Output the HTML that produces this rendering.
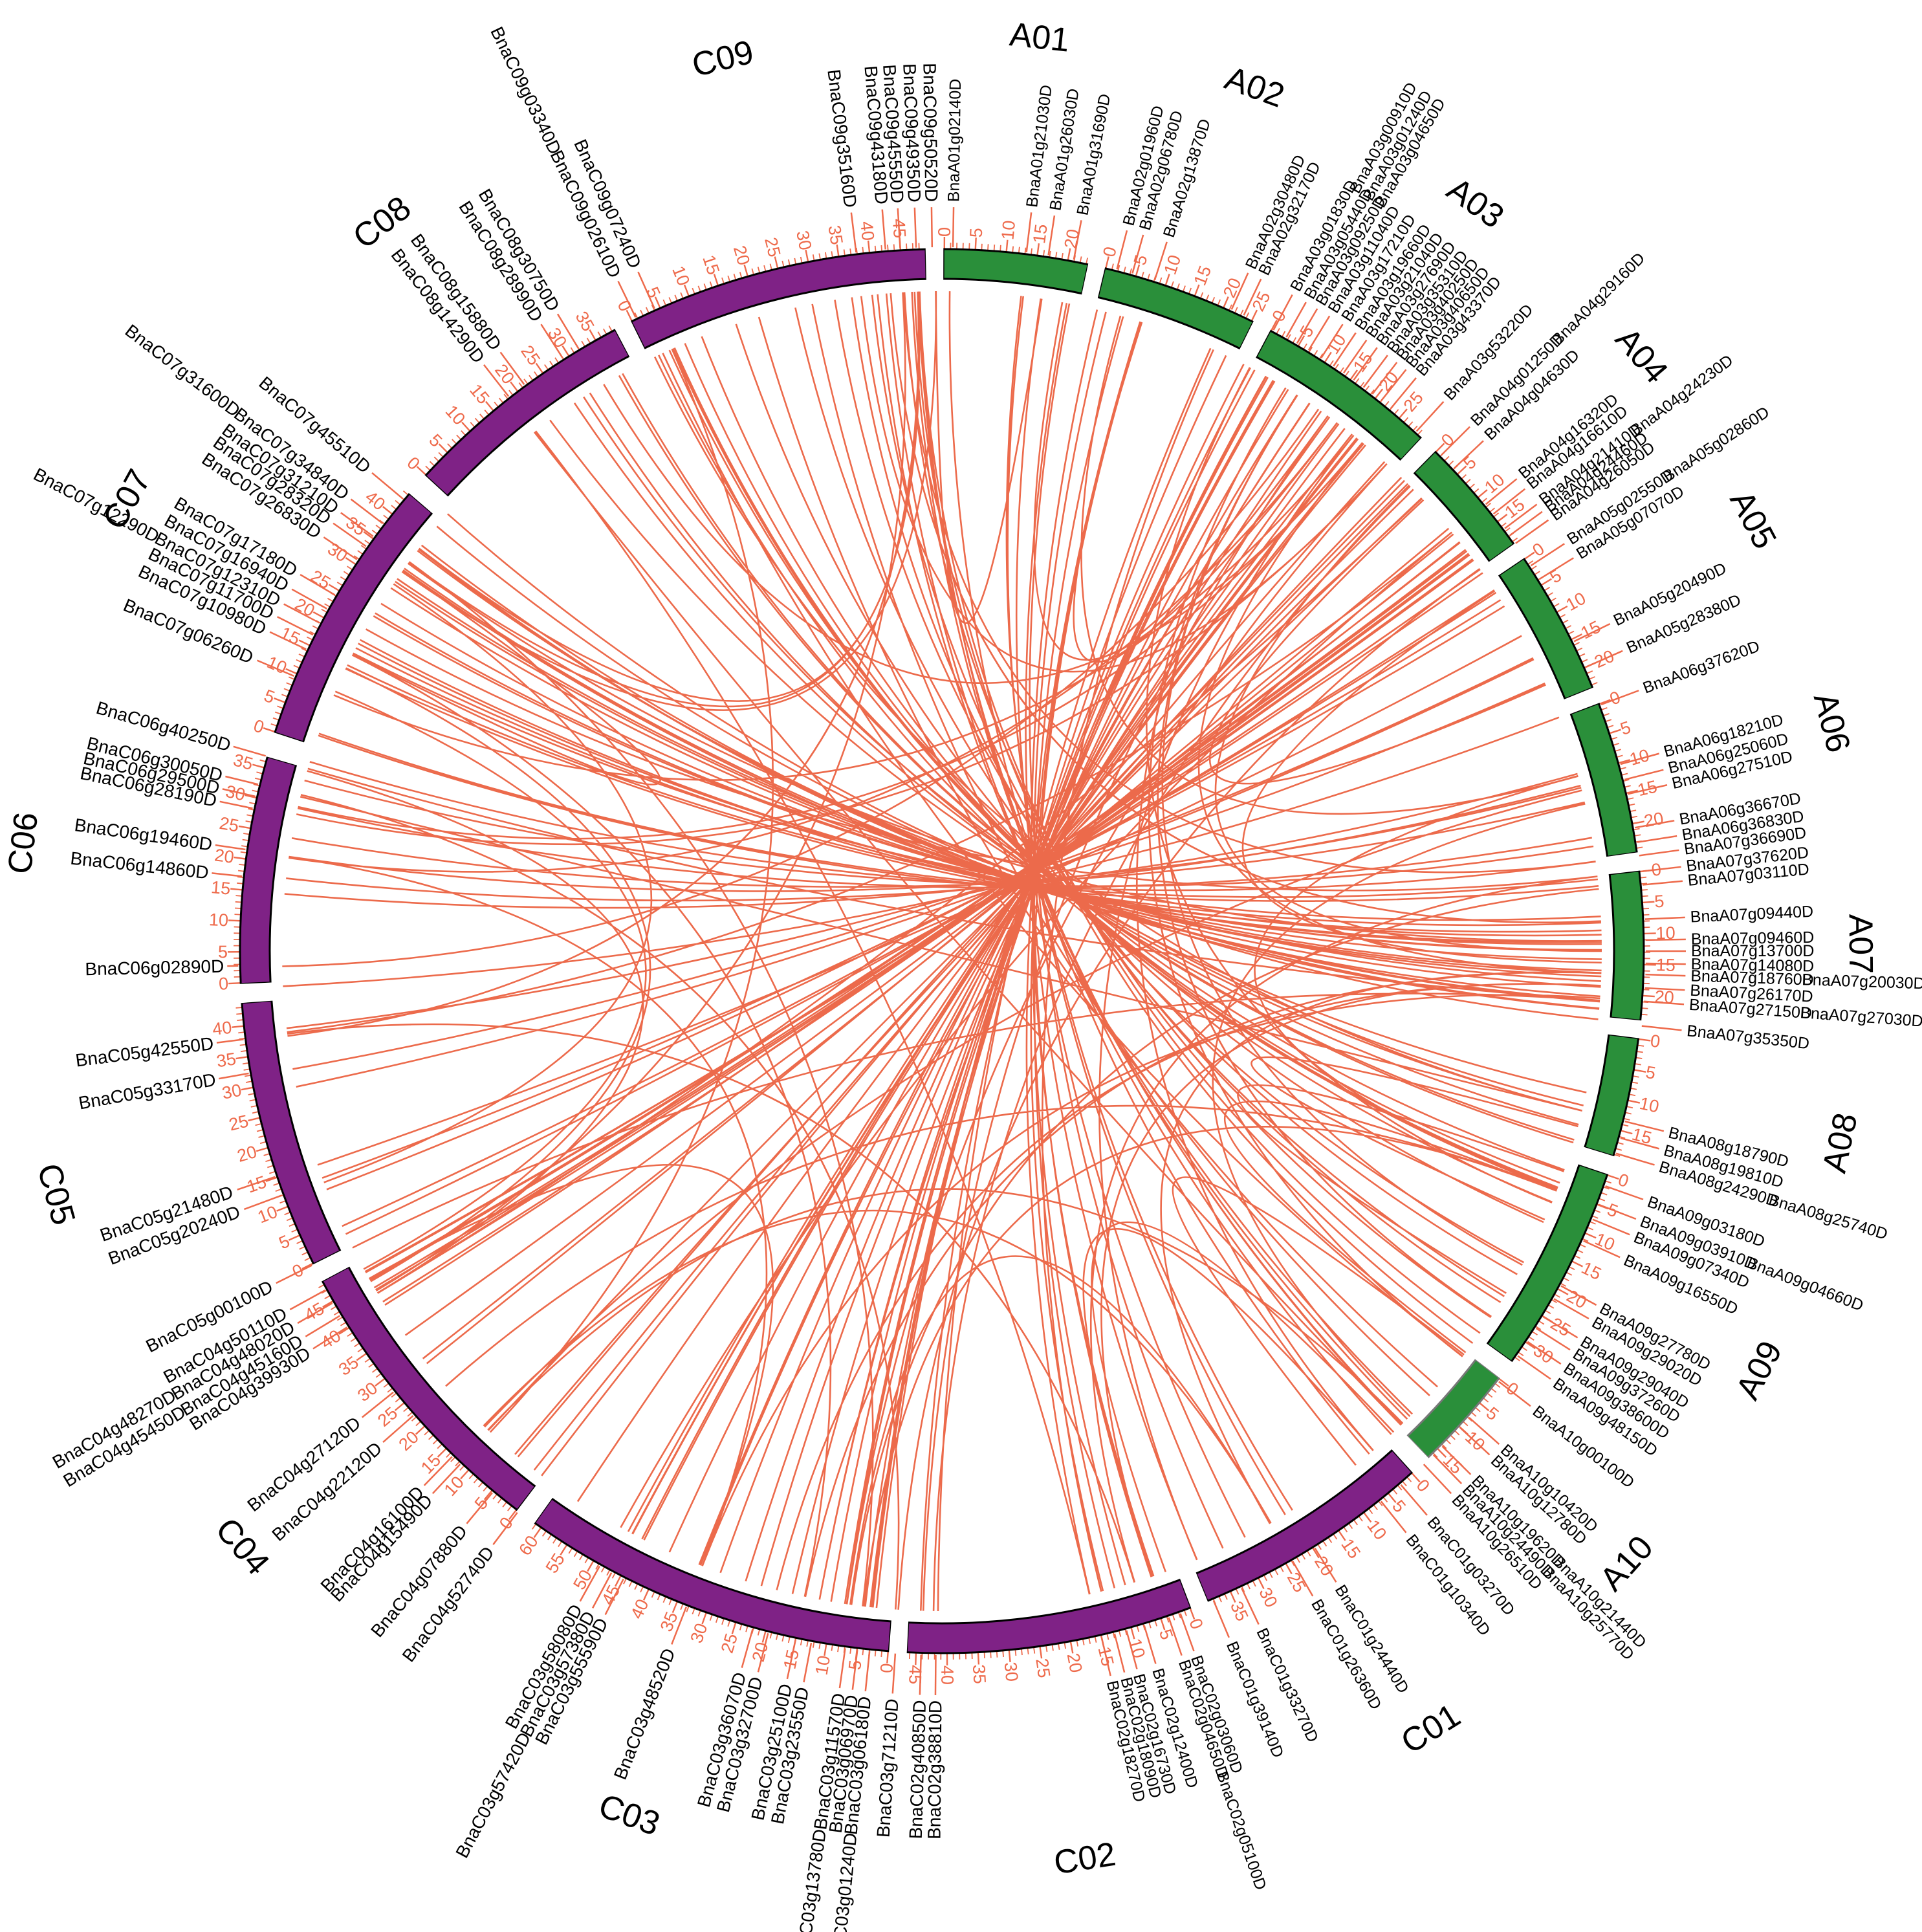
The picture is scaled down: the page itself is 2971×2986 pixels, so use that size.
<!DOCTYPE html>
<html><head><meta charset="utf-8">
<style>
html,body{margin:0;padding:0;background:#fff;}
svg{display:block;}
.g text{font-family:"Liberation Sans",Arial,sans-serif;font-size:28px;fill:#000;dominant-baseline:central;}
.g.r text{font-size:25px;}
.g line{stroke:#EE6A4B;stroke-width:2.5;}
.t text{font-family:"Liberation Sans",Arial,sans-serif;font-size:27px;fill:#EE6A4B;dominant-baseline:central;}
.tf text{text-anchor:end;}
.n text{font-family:"Liberation Sans",Arial,sans-serif;font-size:52px;fill:#000;text-anchor:middle;dominant-baseline:central;}
.e{text-anchor:end;}
</style></head>
<body>
<svg id="s" width="2971" height="2986" viewBox="0 0 2971 2986" xmlns="http://www.w3.org/2000/svg">
<rect width="2971" height="2986" fill="#fff"/>
<g id="links" transform="translate(1456,1470)" fill="none" stroke="#EC6A4B" stroke-width="2.6"></g>
<g id="ticks" transform="translate(1456,1470)" fill="none" stroke="#EE6A4B"></g>
<g transform="translate(1456,1470) rotate(-90)" fill="none">
<g stroke="#000" stroke-width="49">
<circle r="1062" pathLength="360" stroke-dasharray="11.9 360" transform="rotate(0.12)"/>
<circle r="1062" pathLength="360" stroke-dasharray="12.91 360" transform="rotate(13.42)"/>
<circle r="1062" pathLength="360" stroke-dasharray="15.19 360" transform="rotate(27.88)"/>
<circle r="1062" pathLength="360" stroke-dasharray="9.95 360" transform="rotate(44.62)"/>
<circle r="1062" pathLength="360" stroke-dasharray="11.99 360" transform="rotate(55.98)"/>
<circle r="1062" pathLength="360" stroke-dasharray="12.6 360" transform="rotate(69.32)"/>
<circle r="1062" pathLength="360" stroke-dasharray="12.25 360" transform="rotate(83.42)"/>
<circle r="1062" pathLength="360" stroke-dasharray="9.85 360" transform="rotate(97.12)"/>
<circle r="1062" pathLength="360" stroke-dasharray="17.25 360" transform="rotate(108.52)"/>
<circle r="1062" pathLength="360" stroke-dasharray="19.85 360" transform="rotate(137.92)"/>
<circle r="1062" pathLength="360" stroke-dasharray="23.65 360" transform="rotate(159.22)"/>
<circle r="1062" pathLength="360" stroke-dasharray="31.15 360" transform="rotate(184.32)"/>
<circle r="1062" pathLength="360" stroke-dasharray="24.75 360" transform="rotate(217.22)"/>
<circle r="1062" pathLength="360" stroke-dasharray="22.25 360" transform="rotate(243.52)"/>
<circle r="1062" pathLength="360" stroke-dasharray="18.75 360" transform="rotate(267.32)"/>
<circle r="1062" pathLength="360" stroke-dasharray="22.55 360" transform="rotate(288.12)"/>
<circle r="1062" pathLength="360" stroke-dasharray="19.65 360" transform="rotate(312.62)"/>
<circle r="1062" pathLength="360" stroke-dasharray="24.95 360" transform="rotate(333.72)"/>
</g>
<circle r="1062" pathLength="360" stroke="#777" stroke-width="49" stroke-dasharray="8.75 360" transform="rotate(127.42)"/>
<g stroke="#2A8F3A" stroke-width="43">
<circle r="1062" pathLength="360" stroke-dasharray="11.75 360" transform="rotate(0.2)"/>
<circle r="1062" pathLength="360" stroke-dasharray="12.76 360" transform="rotate(13.5)"/>
<circle r="1062" pathLength="360" stroke-dasharray="15.04 360" transform="rotate(27.96)"/>
<circle r="1062" pathLength="360" stroke-dasharray="9.8 360" transform="rotate(44.7)"/>
<circle r="1062" pathLength="360" stroke-dasharray="11.84 360" transform="rotate(56.06)"/>
<circle r="1062" pathLength="360" stroke-dasharray="12.45 360" transform="rotate(69.4)"/>
<circle r="1062" pathLength="360" stroke-dasharray="12.1 360" transform="rotate(83.5)"/>
<circle r="1062" pathLength="360" stroke-dasharray="9.7 360" transform="rotate(97.2)"/>
<circle r="1062" pathLength="360" stroke-dasharray="17.1 360" transform="rotate(108.6)"/>
<circle r="1062" pathLength="360" stroke-dasharray="8.6 360" transform="rotate(127.5)"/>
</g>
<g stroke="#7F2286" stroke-width="43">
<circle r="1062" pathLength="360" stroke-dasharray="19.7 360" transform="rotate(138)"/>
<circle r="1062" pathLength="360" stroke-dasharray="23.5 360" transform="rotate(159.3)"/>
<circle r="1062" pathLength="360" stroke-dasharray="31 360" transform="rotate(184.4)"/>
<circle r="1062" pathLength="360" stroke-dasharray="24.6 360" transform="rotate(217.3)"/>
<circle r="1062" pathLength="360" stroke-dasharray="22.1 360" transform="rotate(243.6)"/>
<circle r="1062" pathLength="360" stroke-dasharray="18.6 360" transform="rotate(267.4)"/>
<circle r="1062" pathLength="360" stroke-dasharray="22.4 360" transform="rotate(288.2)"/>
<circle r="1062" pathLength="360" stroke-dasharray="19.5 360" transform="rotate(312.7)"/>
<circle r="1062" pathLength="360" stroke-dasharray="24.8 360" transform="rotate(333.8)"/>
</g>
</g>

<g transform="translate(1456,1470) rotate(-90)" class="t">
<g transform="rotate(0.2)"><text transform="rotate(0) translate(1104,0)">0</text><text transform="rotate(2.535) translate(1104,0)">5</text><text transform="rotate(5.07) translate(1104,0)">10</text><text transform="rotate(7.605) translate(1104,0)">15</text><text transform="rotate(10.14) translate(1104,0)">20</text></g>
<g transform="rotate(13.5)"><text transform="rotate(0) translate(1104,0)">0</text><text transform="rotate(2.535) translate(1104,0)">5</text><text transform="rotate(5.07) translate(1104,0)">10</text><text transform="rotate(7.605) translate(1104,0)">15</text><text transform="rotate(10.14) translate(1104,0)">20</text><text transform="rotate(12.675) translate(1104,0)">25</text></g>
<g transform="rotate(27.96)"><text transform="rotate(0) translate(1104,0)">0</text><text transform="rotate(2.535) translate(1104,0)">5</text><text transform="rotate(5.07) translate(1104,0)">10</text><text transform="rotate(7.605) translate(1104,0)">15</text><text transform="rotate(10.14) translate(1104,0)">20</text><text transform="rotate(12.675) translate(1104,0)">25</text></g>
<g transform="rotate(44.7)"><text transform="rotate(0) translate(1104,0)">0</text><text transform="rotate(2.535) translate(1104,0)">5</text><text transform="rotate(5.07) translate(1104,0)">10</text><text transform="rotate(7.605) translate(1104,0)">15</text></g>
<g transform="rotate(56.06)"><text transform="rotate(0) translate(1104,0)">0</text><text transform="rotate(2.535) translate(1104,0)">5</text><text transform="rotate(5.07) translate(1104,0)">10</text><text transform="rotate(7.605) translate(1104,0)">15</text><text transform="rotate(10.14) translate(1104,0)">20</text></g>
<g transform="rotate(69.4)"><text transform="rotate(0) translate(1104,0)">0</text><text transform="rotate(2.535) translate(1104,0)">5</text><text transform="rotate(5.07) translate(1104,0)">10</text><text transform="rotate(7.605) translate(1104,0)">15</text><text transform="rotate(10.14) translate(1104,0)">20</text></g>
<g transform="rotate(83.5)"><text transform="rotate(0) translate(1104,0)">0</text><text transform="rotate(2.535) translate(1104,0)">5</text><text transform="rotate(5.07) translate(1104,0)">10</text><text transform="rotate(7.605) translate(1104,0)">15</text><text transform="rotate(10.14) translate(1104,0)">20</text></g>
<g transform="rotate(97.2)"><text transform="rotate(0) translate(1104,0)">0</text><text transform="rotate(2.535) translate(1104,0)">5</text><text transform="rotate(5.07) translate(1104,0)">10</text><text transform="rotate(7.605) translate(1104,0)">15</text></g>
<g transform="rotate(108.6)"><text transform="rotate(0) translate(1104,0)">0</text><text transform="rotate(2.535) translate(1104,0)">5</text><text transform="rotate(5.07) translate(1104,0)">10</text><text transform="rotate(7.605) translate(1104,0)">15</text><text transform="rotate(10.14) translate(1104,0)">20</text><text transform="rotate(12.675) translate(1104,0)">25</text><text transform="rotate(15.21) translate(1104,0)">30</text></g>
<g transform="rotate(127.5)"><text transform="rotate(0) translate(1104,0)">0</text><text transform="rotate(2.535) translate(1104,0)">5</text><text transform="rotate(5.07) translate(1104,0)">10</text><text transform="rotate(7.605) translate(1104,0)">15</text></g>
<g transform="rotate(138)"><text transform="rotate(0) translate(1104,0)">0</text><text transform="rotate(2.535) translate(1104,0)">5</text><text transform="rotate(5.07) translate(1104,0)">10</text><text transform="rotate(7.605) translate(1104,0)">15</text><text transform="rotate(10.14) translate(1104,0)">20</text><text transform="rotate(12.675) translate(1104,0)">25</text><text transform="rotate(15.21) translate(1104,0)">30</text><text transform="rotate(17.745) translate(1104,0)">35</text></g>
<g transform="rotate(159.3)"><text transform="rotate(0) translate(1104,0)">0</text><text transform="rotate(2.535) translate(1104,0)">5</text><text transform="rotate(5.07) translate(1104,0)">10</text><text transform="rotate(7.605) translate(1104,0)">15</text><text transform="rotate(10.14) translate(1104,0)">20</text><text transform="rotate(12.675) translate(1104,0)">25</text><text transform="rotate(15.21) translate(1104,0)">30</text><text transform="rotate(17.745) translate(1104,0)">35</text><text transform="rotate(20.28) translate(1104,0)">40</text><text transform="rotate(22.815) translate(1104,0)">45</text></g>
</g>
<g transform="translate(1456,1470) rotate(-90)" class="t tf">
<g transform="rotate(184.4)"><text transform="rotate(0) translate(1104,0) rotate(180)">0</text><text transform="rotate(2.535) translate(1104,0) rotate(180)">5</text><text transform="rotate(5.07) translate(1104,0) rotate(180)">10</text><text transform="rotate(7.605) translate(1104,0) rotate(180)">15</text><text transform="rotate(10.14) translate(1104,0) rotate(180)">20</text><text transform="rotate(12.675) translate(1104,0) rotate(180)">25</text><text transform="rotate(15.21) translate(1104,0) rotate(180)">30</text><text transform="rotate(17.745) translate(1104,0) rotate(180)">35</text><text transform="rotate(20.28) translate(1104,0) rotate(180)">40</text><text transform="rotate(22.815) translate(1104,0) rotate(180)">45</text><text transform="rotate(25.35) translate(1104,0) rotate(180)">50</text><text transform="rotate(27.885) translate(1104,0) rotate(180)">55</text><text transform="rotate(30.42) translate(1104,0) rotate(180)">60</text></g>
<g transform="rotate(217.3)"><text transform="rotate(0) translate(1104,0) rotate(180)">0</text><text transform="rotate(2.535) translate(1104,0) rotate(180)">5</text><text transform="rotate(5.07) translate(1104,0) rotate(180)">10</text><text transform="rotate(7.605) translate(1104,0) rotate(180)">15</text><text transform="rotate(10.14) translate(1104,0) rotate(180)">20</text><text transform="rotate(12.675) translate(1104,0) rotate(180)">25</text><text transform="rotate(15.21) translate(1104,0) rotate(180)">30</text><text transform="rotate(17.745) translate(1104,0) rotate(180)">35</text><text transform="rotate(20.28) translate(1104,0) rotate(180)">40</text><text transform="rotate(22.815) translate(1104,0) rotate(180)">45</text></g>
<g transform="rotate(243.6)"><text transform="rotate(0) translate(1104,0) rotate(180)">0</text><text transform="rotate(2.535) translate(1104,0) rotate(180)">5</text><text transform="rotate(5.07) translate(1104,0) rotate(180)">10</text><text transform="rotate(7.605) translate(1104,0) rotate(180)">15</text><text transform="rotate(10.14) translate(1104,0) rotate(180)">20</text><text transform="rotate(12.675) translate(1104,0) rotate(180)">25</text><text transform="rotate(15.21) translate(1104,0) rotate(180)">30</text><text transform="rotate(17.745) translate(1104,0) rotate(180)">35</text><text transform="rotate(20.28) translate(1104,0) rotate(180)">40</text></g>
<g transform="rotate(267.4)"><text transform="rotate(0) translate(1104,0) rotate(180)">0</text><text transform="rotate(2.535) translate(1104,0) rotate(180)">5</text><text transform="rotate(5.07) translate(1104,0) rotate(180)">10</text><text transform="rotate(7.605) translate(1104,0) rotate(180)">15</text><text transform="rotate(10.14) translate(1104,0) rotate(180)">20</text><text transform="rotate(12.675) translate(1104,0) rotate(180)">25</text><text transform="rotate(15.21) translate(1104,0) rotate(180)">30</text><text transform="rotate(17.745) translate(1104,0) rotate(180)">35</text></g>
<g transform="rotate(288.2)"><text transform="rotate(0) translate(1104,0) rotate(180)">0</text><text transform="rotate(2.535) translate(1104,0) rotate(180)">5</text><text transform="rotate(5.07) translate(1104,0) rotate(180)">10</text><text transform="rotate(7.605) translate(1104,0) rotate(180)">15</text><text transform="rotate(10.14) translate(1104,0) rotate(180)">20</text><text transform="rotate(12.675) translate(1104,0) rotate(180)">25</text><text transform="rotate(15.21) translate(1104,0) rotate(180)">30</text><text transform="rotate(17.745) translate(1104,0) rotate(180)">35</text><text transform="rotate(20.28) translate(1104,0) rotate(180)">40</text></g>
<g transform="rotate(312.7)"><text transform="rotate(0) translate(1104,0) rotate(180)">0</text><text transform="rotate(2.535) translate(1104,0) rotate(180)">5</text><text transform="rotate(5.07) translate(1104,0) rotate(180)">10</text><text transform="rotate(7.605) translate(1104,0) rotate(180)">15</text><text transform="rotate(10.14) translate(1104,0) rotate(180)">20</text><text transform="rotate(12.675) translate(1104,0) rotate(180)">25</text><text transform="rotate(15.21) translate(1104,0) rotate(180)">30</text><text transform="rotate(17.745) translate(1104,0) rotate(180)">35</text></g>
<g transform="rotate(333.8)"><text transform="rotate(0) translate(1104,0) rotate(180)">0</text><text transform="rotate(2.535) translate(1104,0) rotate(180)">5</text><text transform="rotate(5.07) translate(1104,0) rotate(180)">10</text><text transform="rotate(7.605) translate(1104,0) rotate(180)">15</text><text transform="rotate(10.14) translate(1104,0) rotate(180)">20</text><text transform="rotate(12.675) translate(1104,0) rotate(180)">25</text><text transform="rotate(15.21) translate(1104,0) rotate(180)">30</text><text transform="rotate(17.745) translate(1104,0) rotate(180)">35</text><text transform="rotate(20.28) translate(1104,0) rotate(180)">40</text><text transform="rotate(22.815) translate(1104,0) rotate(180)">45</text></g>
</g>

<g transform="translate(1456,1470)" class="n">
<text transform="rotate(6.1) translate(0,-1420)">A01</text>
<text transform="rotate(19.9) translate(0,-1420)">A02</text>
<text transform="rotate(35.5) translate(0,-1420)">A03</text>
<text transform="rotate(49.6) translate(0,-1420)">A04</text>
<text transform="rotate(62) translate(0,-1420)">A05</text>
<text transform="rotate(75.6) translate(0,-1420)">A06</text>
<text transform="rotate(89.55) translate(0,-1420)">A07</text>
<text transform="rotate(102.05) translate(0,-1420) rotate(180)">A08</text>
<text transform="rotate(117.15) translate(0,-1420) rotate(180)">A09</text>
<text transform="rotate(131.8) translate(0,-1420) rotate(180)">A10</text>
<text transform="rotate(147.85) translate(0,-1420) rotate(180)">C01</text>
<text transform="rotate(171.05) translate(0,-1420) rotate(180)">C02</text>
<text transform="rotate(199.9) translate(0,-1420) rotate(180)">C03</text>
<text transform="rotate(229.6) translate(0,-1420) rotate(180)">C04</text>
<text transform="rotate(254.65) translate(0,-1420) rotate(180)">C05</text>
<text transform="rotate(276.7) translate(0,-1430)">C06</text>
<text transform="rotate(299.0) translate(0,-1440)">C07</text>
<text transform="rotate(322.45) translate(0,-1420)">C08</text>
<text transform="rotate(346.2) translate(0,-1420)">C09</text>
</g>

<g transform="translate(1456,1470) rotate(-90)" class="g r">
<g transform="rotate(0.9)"><line x1="1088" x2="1150"/><text x="1158">BnaA01g02140D</text></g>
<g transform="rotate(6.9)"><line x1="1088" x2="1150"/><text x="1158">BnaA01g21030D</text></g>
<g transform="rotate(8.7)"><line x1="1088" x2="1150"/><text x="1158">BnaA01g26030D</text></g>
<g transform="rotate(10.8)"><line x1="1088" x2="1150"/><text x="1158">BnaA01g31690D</text></g>
<g transform="rotate(14.4)"><line x1="1088" x2="1150"/><text x="1158">BnaA02g01960D</text></g>
<g transform="rotate(15.7)"><line x1="1088" x2="1150"/><text x="1158">BnaA02g06780D</text></g>
<g transform="rotate(17.6)"><line x1="1088" x2="1150"/><text x="1158">BnaA02g13870D</text></g>
<g transform="rotate(24.3)"><line x1="1088" x2="1150"/><text x="1158">BnaA02g30480D</text></g>
<g transform="rotate(25.4)"><line x1="1088" x2="1150"/><text x="1158">BnaA02g32170D</text></g>
<g transform="rotate(28.1)"><line x1="1088" x2="1150"/><text x="1158">BnaA03g01830D</text></g>
<g transform="rotate(29.3)"><line x1="1088" x2="1150"/><text x="1158">BnaA03g05440D</text></g>
<g transform="rotate(30.3)"><line x1="1088" x2="1150"/><text x="1158">BnaA03g09250D</text></g>
<g transform="rotate(31.4)"><line x1="1088" x2="1150"/><text x="1158">BnaA03g11040D</text></g>
<g transform="rotate(32.6)"><line x1="1088" x2="1150"/><text x="1158">BnaA03g17210D</text></g>
<g transform="rotate(33.8)"><line x1="1088" x2="1150"/><text x="1158">BnaA03g19660D</text></g>
<g transform="rotate(34.8)"><line x1="1088" x2="1150"/><text x="1158">BnaA03g21040D</text></g>
<g transform="rotate(35.8)"><line x1="1088" x2="1150"/><text x="1158">BnaA03g27690D</text></g>
<g transform="rotate(36.8)"><line x1="1088" x2="1150"/><text x="1158">BnaA03g35310D</text></g>
<g transform="rotate(37.7)"><line x1="1088" x2="1150"/><text x="1158">BnaA03g40250D</text></g>
<g transform="rotate(38.6)"><line x1="1088" x2="1150"/><text x="1158">BnaA03g40650D</text></g>
<g transform="rotate(39.6)"><line x1="1088" x2="1150"/><text x="1158">BnaA03g43370D</text></g>
<g transform="rotate(42.4)"><line x1="1088" x2="1150"/><text x="1158">BnaA03g53220D</text></g>
<g transform="rotate(28.5)"><text x="1335">BnaA03g00910D</text></g>
<g transform="rotate(29.5)"><text x="1335">BnaA03g01240D</text></g>
<g transform="rotate(30.4)"><text x="1335">BnaA03g04650D</text></g>
<g transform="rotate(45.2)"><line x1="1088" x2="1150"/><text x="1158">BnaA04g01250D</text></g>
<g transform="rotate(46.7)"><line x1="1088" x2="1150"/><text x="1158">BnaA04g04630D</text></g>
<g transform="rotate(50.6)"><line x1="1088" x2="1150"/><text x="1158">BnaA04g16320D</text></g>
<g transform="rotate(51.6)"><line x1="1088" x2="1150"/><text x="1158">BnaA04g16610D</text></g>
<g transform="rotate(53.1)"><line x1="1088" x2="1150"/><text x="1158">BnaA04g21410D</text></g>
<g transform="rotate(53.8)"><line x1="1088" x2="1150"/><text x="1158">BnaA04g24460D</text></g>
<g transform="rotate(54.6)"><line x1="1088" x2="1150"/><text x="1158">BnaA04g26050D</text></g>
<g transform="rotate(45.2)"><text x="1335">BnaA04g29160D</text></g>
<g transform="rotate(53.1)"><text x="1335">BnaA04g24230D</text></g>
<g transform="rotate(56.8)"><line x1="1088" x2="1150"/><text x="1158">BnaA05g02550D</text></g>
<g transform="rotate(58.1)"><line x1="1088" x2="1150"/><text x="1158">BnaA05g07070D</text></g>
<g transform="rotate(63.9)"><line x1="1088" x2="1150"/><text x="1158">BnaA05g20490D</text></g>
<g transform="rotate(66.2)"><line x1="1088" x2="1150"/><text x="1158">BnaA05g28380D</text></g>
<g transform="rotate(56.8)"><text x="1335">BnaA05g02860D</text></g>
<g transform="rotate(69.5)"><line x1="1088" x2="1150"/><text x="1158">BnaA06g37620D</text></g>
<g transform="rotate(74.6)"><line x1="1088" x2="1150"/><text x="1158">BnaA06g18210D</text></g>
<g transform="rotate(75.9)"><line x1="1088" x2="1150"/><text x="1158">BnaA06g25060D</text></g>
<g transform="rotate(77.1)"><line x1="1088" x2="1150"/><text x="1158">BnaA06g27510D</text></g>
<g transform="rotate(79.9)"><line x1="1088" x2="1150"/><text x="1158">BnaA06g36670D</text></g>
<g transform="rotate(81.1)"><line x1="1088" x2="1150"/><text x="1158">BnaA06g36830D</text></g>
<g transform="rotate(82.2)"><line x1="1088" x2="1150"/><text x="1158">BnaA07g36690D</text></g>
<g transform="rotate(83.5)"><line x1="1088" x2="1150"/><text x="1158">BnaA07g37620D</text></g>
<g transform="rotate(84.6)"><line x1="1088" x2="1150"/><text x="1158">BnaA07g03110D</text></g>
<g transform="rotate(87.4)"><line x1="1088" x2="1150"/><text x="1158">BnaA07g09440D</text></g>
<g transform="rotate(89.1)"><line x1="1088" x2="1150"/><text x="1158">BnaA07g09460D</text></g>
<g transform="rotate(90.0)"><line x1="1088" x2="1150"/><text x="1158">BnaA07g13700D</text></g>
<g transform="rotate(91.0)"><line x1="1088" x2="1150"/><text x="1158">BnaA07g14080D</text></g>
<g transform="rotate(91.9)"><line x1="1088" x2="1150"/><text x="1158">BnaA07g18760D</text></g>
<g transform="rotate(93.0)"><line x1="1088" x2="1150"/><text x="1158">BnaA07g26170D</text></g>
<g transform="rotate(94.1)"><line x1="1088" x2="1150"/><text x="1158">BnaA07g27150D</text></g>
<g transform="rotate(96.1)"><line x1="1088" x2="1150"/><text x="1158">BnaA07g35350D</text></g>
<g transform="rotate(91.9)"><text x="1330">BnaA07g20030D</text></g>
<g transform="rotate(94.1)"><text x="1330">BnaA07g27030D</text></g>
<g transform="rotate(104.0)"><line x1="1088" x2="1150"/><text x="1158">BnaA08g18790D</text></g>
<g transform="rotate(105.4)"><line x1="1088" x2="1150"/><text x="1158">BnaA08g19810D</text></g>
<g transform="rotate(106.7)"><line x1="1088" x2="1150"/><text x="1158">BnaA08g24290D</text></g>
<g transform="rotate(106.7)"><text x="1335">BnaA08g25740D</text></g>
<g transform="rotate(109.5)"><line x1="1088" x2="1150"/><text x="1158">BnaA09g03180D</text></g>
<g transform="rotate(111.1)"><line x1="1088" x2="1150"/><text x="1158">BnaA09g03910D</text></g>
<g transform="rotate(112.4)"><line x1="1088" x2="1150"/><text x="1158">BnaA09g07340D</text></g>
<g transform="rotate(114.3)"><line x1="1088" x2="1150"/><text x="1158">BnaA09g16550D</text></g>
<g transform="rotate(118.4)"><line x1="1088" x2="1150"/><text x="1158">BnaA09g27780D</text></g>
<g transform="rotate(119.6)"><line x1="1088" x2="1150"/><text x="1158">BnaA09g29020D</text></g>
<g transform="rotate(121.3)"><line x1="1088" x2="1150"/><text x="1158">BnaA09g29040D</text></g>
<g transform="rotate(122.4)"><line x1="1088" x2="1150"/><text x="1158">BnaA09g37260D</text></g>
<g transform="rotate(123.7)"><line x1="1088" x2="1150"/><text x="1158">BnaA09g38600D</text></g>
<g transform="rotate(125.1)"><line x1="1088" x2="1150"/><text x="1158">BnaA09g48150D</text></g>
<g transform="rotate(111.1)"><text x="1335">BnaA09g04660D</text></g>
<g transform="rotate(127.7)"><line x1="1088" x2="1150"/><text x="1158">BnaA10g00100D</text></g>
<g transform="rotate(131.5)"><line x1="1088" x2="1150"/><text x="1158">BnaA10g10420D</text></g>
<g transform="rotate(132.6)"><line x1="1088" x2="1150"/><text x="1158">BnaA10g12780D</text></g>
<g transform="rotate(134.7)"><line x1="1088" x2="1150"/><text x="1158">BnaA10g19620D</text></g>
<g transform="rotate(135.7)"><line x1="1088" x2="1150"/><text x="1158">BnaA10g24490D</text></g>
<g transform="rotate(136.8)"><line x1="1088" x2="1150"/><text x="1158">BnaA10g26510D</text></g>
<g transform="rotate(134.7)"><text x="1335">BnaA10g21440D</text></g>
<g transform="rotate(135.7)"><text x="1335">BnaA10g25770D</text></g>
<g transform="rotate(139.3)"><line x1="1088" x2="1150"/><text x="1158">BnaC01g03270D</text></g>
<g transform="rotate(141.4)"><line x1="1088" x2="1150"/><text x="1158">BnaC01g10340D</text></g>
<g transform="rotate(148.0)"><line x1="1088" x2="1150"/><text x="1158">BnaC01g24440D</text></g>
<g transform="rotate(150.1)"><line x1="1088" x2="1150"/><text x="1158">BnaC01g26360D</text></g>
<g transform="rotate(154.8)"><line x1="1088" x2="1150"/><text x="1158">BnaC01g33270D</text></g>
<g transform="rotate(157.3)"><line x1="1088" x2="1150"/><text x="1158">BnaC01g39140D</text></g>
<g transform="rotate(160.2)"><line x1="1088" x2="1150"/><text x="1158">BnaC02g03060D</text></g>
<g transform="rotate(161.2)"><line x1="1088" x2="1150"/><text x="1158">BnaC02g04650D</text></g>
<g transform="rotate(163.3)"><line x1="1088" x2="1150"/><text x="1158">BnaC02g12400D</text></g>
<g transform="rotate(164.8)"><line x1="1088" x2="1150"/><text x="1158">BnaC02g16730D</text></g>
<g transform="rotate(165.8)"><line x1="1088" x2="1150"/><text x="1158">BnaC02g18090D</text></g>
<g transform="rotate(166.9)"><line x1="1088" x2="1150"/><text x="1158">BnaC02g18270D</text></g>
<g transform="rotate(161.2)"><text x="1340">BnaC02g05100D</text></g>
</g>

<g transform="translate(1456,1470) rotate(-90)" class="g">
<g transform="rotate(180.5)"><line x1="1088" x2="1150"/><text class="e" transform="translate(1158,0) rotate(180)">BnaC02g38810D</text></g>
<g transform="rotate(181.7)"><line x1="1088" x2="1150"/><text class="e" transform="translate(1158,0) rotate(180)">BnaC02g40850D</text></g>
<g transform="rotate(183.8)"><line x1="1088" x2="1150"/><text class="e" transform="translate(1158,0) rotate(180)">BnaC03g71210D</text></g>
<g transform="rotate(185.9)"><line x1="1088" x2="1150"/><text class="e" transform="translate(1158,0) rotate(180)">BnaC03g06180D</text></g>
<g transform="rotate(186.9)"><line x1="1088" x2="1150"/><text class="e" transform="translate(1158,0) rotate(180)">BnaC03g06970D</text></g>
<g transform="rotate(187.9)"><line x1="1088" x2="1150"/><text class="e" transform="translate(1158,0) rotate(180)">BnaC03g11570D</text></g>
<g transform="rotate(190.7)"><line x1="1088" x2="1150"/><text class="e" transform="translate(1158,0) rotate(180)">BnaC03g23550D</text></g>
<g transform="rotate(192.0)"><line x1="1088" x2="1150"/><text class="e" transform="translate(1158,0) rotate(180)">BnaC03g25100D</text></g>
<g transform="rotate(194.3)"><line x1="1088" x2="1150"/><text class="e" transform="translate(1158,0) rotate(180)">BnaC03g32700D</text></g>
<g transform="rotate(195.6)"><line x1="1088" x2="1150"/><text class="e" transform="translate(1158,0) rotate(180)">BnaC03g36070D</text></g>
<g transform="rotate(201.3)"><line x1="1088" x2="1150"/><text class="e" transform="translate(1158,0) rotate(180)">BnaC03g48520D</text></g>
<g transform="rotate(206.9)"><line x1="1088" x2="1150"/><text class="e" transform="translate(1158,0) rotate(180)">BnaC03g55590D</text></g>
<g transform="rotate(208.0)"><line x1="1088" x2="1150"/><text class="e" transform="translate(1158,0) rotate(180)">BnaC03g57380D</text></g>
<g transform="rotate(209.1)"><line x1="1088" x2="1150"/><text class="e" transform="translate(1158,0) rotate(180)">BnaC03g58080D</text></g>
<g transform="rotate(187.9)"><text class="e" transform="translate(1370,0) rotate(180)">BnaC03g13780D</text></g>
<g transform="rotate(185.9)"><text class="e" transform="translate(1370,0) rotate(180)">BnaC03g01240D</text></g>
<g transform="rotate(208.0)"><text class="e" transform="translate(1370,0) rotate(180)">BnaC03g57420D</text></g>
<g transform="rotate(217.1)"><line x1="1088" x2="1150"/><text class="e" transform="translate(1158,0) rotate(180)">BnaC04g52740D</text></g>
<g transform="rotate(219.7)"><line x1="1088" x2="1150"/><text class="e" transform="translate(1158,0) rotate(180)">BnaC04g07880D</text></g>
<g transform="rotate(223.2)"><line x1="1088" x2="1150"/><text class="e" transform="translate(1158,0) rotate(180)">BnaC04g15490D</text></g>
<g transform="rotate(224.1)"><line x1="1088" x2="1150"/><text class="e" transform="translate(1158,0) rotate(180)">BnaC04g16100D</text></g>
<g transform="rotate(228.7)"><line x1="1088" x2="1150"/><text class="e" transform="translate(1158,0) rotate(180)">BnaC04g22120D</text></g>
<g transform="rotate(231.2)"><line x1="1088" x2="1150"/><text class="e" transform="translate(1158,0) rotate(180)">BnaC04g27120D</text></g>
<g transform="rotate(237.7)"><line x1="1088" x2="1150"/><text class="e" transform="translate(1158,0) rotate(180)">BnaC04g39930D</text></g>
<g transform="rotate(238.8)"><line x1="1088" x2="1150"/><text class="e" transform="translate(1158,0) rotate(180)">BnaC04g45160D</text></g>
<g transform="rotate(240.0)"><line x1="1088" x2="1150"/><text class="e" transform="translate(1158,0) rotate(180)">BnaC04g48020D</text></g>
<g transform="rotate(241.2)"><line x1="1088" x2="1150"/><text class="e" transform="translate(1158,0) rotate(180)">BnaC04g50110D</text></g>
<g transform="rotate(238.8)"><text class="e" transform="translate(1370,0) rotate(180)">BnaC04g45450D</text></g>
<g transform="rotate(240.0)"><text class="e" transform="translate(1370,0) rotate(180)">BnaC04g48270D</text></g>
<g transform="rotate(243.5)"><line x1="1088" x2="1150"/><text class="e" transform="translate(1158,0) rotate(180)">BnaC05g00100D</text></g>
<g transform="rotate(249.7)"><line x1="1088" x2="1150"/><text class="e" transform="translate(1158,0) rotate(180)">BnaC05g20240D</text></g>
<g transform="rotate(251.3)"><line x1="1088" x2="1150"/><text class="e" transform="translate(1158,0) rotate(180)">BnaC05g21480D</text></g>
<g transform="rotate(260.0)"><line x1="1088" x2="1135"/><text class="e" transform="translate(1140,0) rotate(180)">BnaC05g33170D</text></g>
<g transform="rotate(262.8)"><line x1="1088" x2="1130"/><text class="e" transform="translate(1135,0) rotate(180)">BnaC05g42550D</text></g>
<g transform="rotate(268.8)"><line x1="1088" x2="1105"/><text class="e" transform="translate(1110,0) rotate(180)">BnaC06g02890D</text></g>
<g transform="rotate(276.1)"><line x1="1088" x2="1135"/><text class="e" transform="translate(1140,0) rotate(180)">BnaC06g14860D</text></g>
<g transform="rotate(278.3)"><line x1="1088" x2="1135"/><text class="e" transform="translate(1140,0) rotate(180)">BnaC06g19460D</text></g>
<g transform="rotate(281.7)"><line x1="1088" x2="1140"/><text class="e" transform="translate(1145,0) rotate(180)">BnaC06g28190D</text></g>
<g transform="rotate(282.7)"><line x1="1088" x2="1140"/><text class="e" transform="translate(1145,0) rotate(180)">BnaC06g29500D</text></g>
<g transform="rotate(283.7)"><line x1="1088" x2="1140"/><text class="e" transform="translate(1145,0) rotate(180)">BnaC06g30050D</text></g>
<g transform="rotate(286.1)"><line x1="1088" x2="1140"/><text class="e" transform="translate(1145,0) rotate(180)">BnaC06g40250D</text></g>
<g transform="rotate(293.0)"><line x1="1088" x2="1150"/><text class="e" transform="translate(1158,0) rotate(180)">BnaC07g06260D</text></g>
<g transform="rotate(295.4)"><line x1="1088" x2="1150"/><text class="e" transform="translate(1158,0) rotate(180)">BnaC07g10980D</text></g>
<g transform="rotate(296.7)"><line x1="1088" x2="1150"/><text class="e" transform="translate(1158,0) rotate(180)">BnaC07g11700D</text></g>
<g transform="rotate(297.8)"><line x1="1088" x2="1150"/><text class="e" transform="translate(1158,0) rotate(180)">BnaC07g12310D</text></g>
<g transform="rotate(299.1)"><line x1="1088" x2="1150"/><text class="e" transform="translate(1158,0) rotate(180)">BnaC07g16940D</text></g>
<g transform="rotate(300.4)"><line x1="1088" x2="1150"/><text class="e" transform="translate(1158,0) rotate(180)">BnaC07g17180D</text></g>
<g transform="rotate(303.8)"><line x1="1088" x2="1150"/><text class="e" transform="translate(1158,0) rotate(180)">BnaC07g26830D</text></g>
<g transform="rotate(305.1)"><line x1="1088" x2="1150"/><text class="e" transform="translate(1158,0) rotate(180)">BnaC07g28320D</text></g>
<g transform="rotate(306.1)"><line x1="1088" x2="1150"/><text class="e" transform="translate(1158,0) rotate(180)">BnaC07g31210D</text></g>
<g transform="rotate(307.4)"><line x1="1088" x2="1150"/><text class="e" transform="translate(1158,0) rotate(180)">BnaC07g34840D</text></g>
<g transform="rotate(310.0)"><line x1="1088" x2="1150"/><text class="e" transform="translate(1158,0) rotate(180)">BnaC07g45510D</text></g>
<g transform="rotate(297.8)"><text class="e" transform="translate(1370,0) rotate(180)">BnaC07g12290D</text></g>
<g transform="rotate(307.4)"><text class="e" transform="translate(1370,0) rotate(180)">BnaC07g31600D</text></g>
<g transform="rotate(322.0)"><line x1="1088" x2="1150"/><text class="e" transform="translate(1158,0) rotate(180)">BnaC08g14290D</text></g>
<g transform="rotate(323.6)"><line x1="1088" x2="1150"/><text class="e" transform="translate(1158,0) rotate(180)">BnaC08g15880D</text></g>
<g transform="rotate(327.4)"><line x1="1088" x2="1150"/><text class="e" transform="translate(1158,0) rotate(180)">BnaC08g28990D</text></g>
<g transform="rotate(328.9)"><line x1="1088" x2="1150"/><text class="e" transform="translate(1158,0) rotate(180)">BnaC08g30750D</text></g>
<g transform="rotate(334.2)"><line x1="1088" x2="1150"/><text class="e" transform="translate(1158,0) rotate(180)">BnaC09g02610D</text></g>
<g transform="rotate(335.9)"><line x1="1088" x2="1150"/><text class="e" transform="translate(1158,0) rotate(180)">BnaC09g07240D</text></g>
<g transform="rotate(353.0)"><line x1="1088" x2="1150"/><text class="e" transform="translate(1158,0) rotate(180)">BnaC09g35160D</text></g>
<g transform="rotate(355.4)"><line x1="1088" x2="1150"/><text class="e" transform="translate(1158,0) rotate(180)">BnaC09g43180D</text></g>
<g transform="rotate(356.6)"><line x1="1088" x2="1150"/><text class="e" transform="translate(1158,0) rotate(180)">BnaC09g45550D</text></g>
<g transform="rotate(357.9)"><line x1="1088" x2="1150"/><text class="e" transform="translate(1158,0) rotate(180)">BnaC09g49350D</text></g>
<g transform="rotate(359.2)"><line x1="1088" x2="1150"/><text class="e" transform="translate(1158,0) rotate(180)">BnaC09g50520D</text></g>
<g transform="rotate(334.2)"><text class="e" transform="translate(1370,0) rotate(180)">BnaC09g03340D</text></g>
</g>
</svg>
<script>
(function(){
var NS="http://www.w3.org/2000/svg";
var ST=[0.2,13.5,27.96,44.7,56.06,69.4,83.5,97.2,108.6,127.5,138,159.3,184.4,217.3,243.6,267.4,288.2,312.7,333.8];
var EN=[11.95,26.26,43.0,54.5,67.9,81.85,95.6,106.9,125.7,136.1,157.7,182.8,215.4,241.9,265.7,286,310.6,332.2,358.6];
var S=0.507;
function pt(a,r){var t=(a-90)*Math.PI/180;return [r*Math.cos(t),r*Math.sin(t)];}
function f(v){return v.toFixed(1);}
try{
var dMin="",dMaj="";
for(var c=0;c<19;c++){var st=ST[c],en=EN[c];
 for(var m=0;st+m*S<=en+0.01;m++){var a=st+m*S;var p1=pt(a,1086);var p2=pt(a,(m%5==0)?1104:1095);
  var seg="M"+f(p1[0])+" "+f(p1[1])+"L"+f(p2[0])+" "+f(p2[1]);
  if(m%5==0)dMaj+=seg;else dMin+=seg;}}
var tg=document.getElementById("ticks");
var e1=document.createElementNS(NS,"path");e1.setAttribute("d",dMin);e1.setAttribute("stroke-width","1.8");tg.appendChild(e1);
var e2=document.createElementNS(NS,"path");e2.setAttribute("d",dMaj);e2.setAttribute("stroke-width","2.4");tg.appendChild(e2);
}catch(err){}
try{
var GA=[0.9,6.9,8.7,10.8,14.4,15.7,17.6,24.3,25.4,28.1,28.5,29.3,29.5,30.3,30.4,31.4,32.6,33.8,34.8,35.8,36.8,37.7,38.6,39.6,42.4,45.2,45.4,46.7,50.6,51.6,53.1,53.3,53.8,54.6,56.8,57.0,58.1,63.9,66.2,69.5,74.6,75.9,77.1,79.9,81.1,82.2,83.5,84.6,87.4,89.1,90.0,91.0,91.9,92.1,93.0,94.1,94.3,96.1,104.0,105.4,106.7,106.9,109.5,111.1,111.3,112.4,114.3,118.4,119.6,121.3,122.4,123.7,125.1,127.7,131.5,132.6,134.7,134.9,135.7,135.9,136.8];
var GC=[139.3,141.4,148.0,150.1,154.8,157.3,160.2,161.2,161.4,163.3,164.8,165.8,166.9,180.5,181.7,183.8,185.9,186.1,186.9,187.9,188.1,190.7,192.0,194.3,195.6,201.3,206.9,208.0,208.2,209.1,217.1,219.7,223.2,224.1,228.7,231.2,237.7,238.8,239.0,240.0,240.2,241.2,243.5,249.7,251.3,260.0,262.8,268.8,276.1,278.3,281.7,282.7,283.7,286.1,293.0,295.4,296.7,297.8,298.0,299.1,300.4,303.8,305.1,306.1,307.4,307.6,310.0,322.0,323.6,327.4,328.9,334.2,334.4,335.9,353.0,355.4,356.6,357.9,359.2];
function chrOf(a){for(var i=0;i<19;i++){if(a>=ST[i]-1.2&&a<=EN[i]+1.2)return i;}return 0;}
function homo(a){var i=chrOf(a);var p=(a-ST[i])/(EN[i]-ST[i]);p=Math.max(0.02,Math.min(0.98,p));var j=(i<10)?i+10:i-10;if(j>18)j=18;return ST[j]+p*(EN[j]-ST[j]);}
var seed=12345;function rnd(){seed=(seed*1103515245+12345)%2147483648;return seed/2147483648;}
var links=[];
for(var i=0;i<GA.length;i++)links.push([GA[i],homo(GA[i])+(rnd()-0.5)*3]);
for(var i=0;i<GC.length;i++){if(rnd()<0.5)links.push([GC[i],homo(GC[i])+(rnd()-0.5)*3]);else links.push([GC[i],GA[Math.floor(rnd()*GA.length)]]);}
for(var j=0;j<22;j++){var x=GA[Math.floor(rnd()*GA.length)],y=GA[Math.floor(rnd()*GA.length)];if(Math.abs(x-y)>8)links.push([x,y]);}
for(var j=0;j<22;j++){var x=GC[Math.floor(rnd()*GC.length)],y=GC[Math.floor(rnd()*GC.length)];if(Math.abs(x-y)>8)links.push([x,y]);}
var d="";
for(var k=0;k<links.length;k++){var a1=links[k][0]+(rnd()-0.5)*0.6,a2=links[k][1];var p=pt(a1,1020),q=pt(a2,1020);
 d+="M"+f(p[0])+" "+f(p[1])+"Q0 0 "+f(q[0])+" "+f(q[1]);}
var lp=document.createElementNS(NS,"path");lp.setAttribute("d",d);document.getElementById("links").appendChild(lp);
}catch(err){}
})();
</script>
</body></html>
